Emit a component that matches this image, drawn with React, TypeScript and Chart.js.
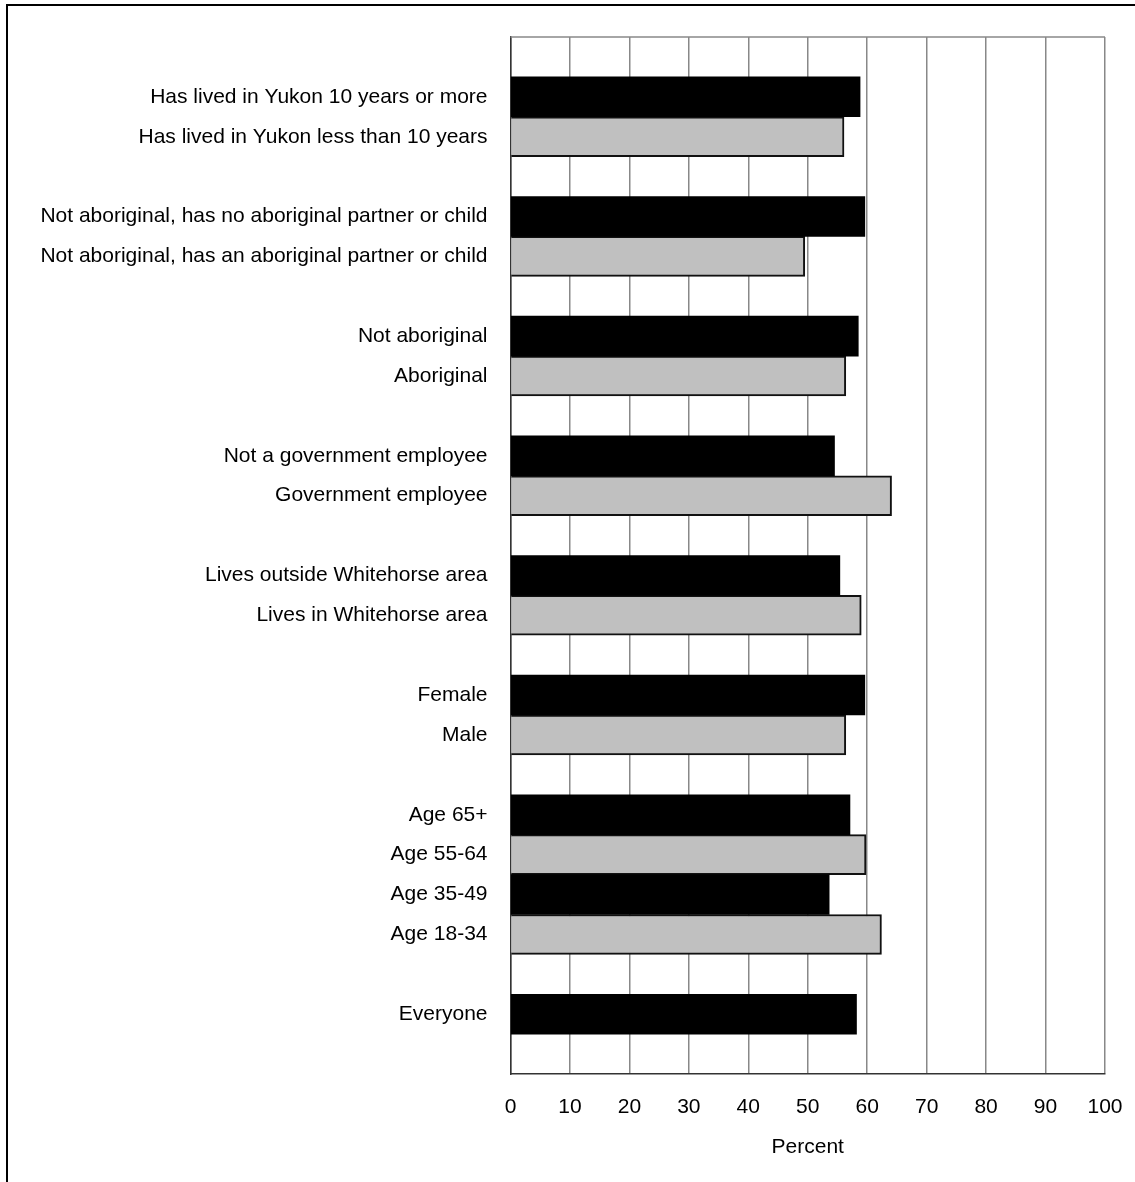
import React, { useEffect, useRef } from "react";
import { Chart, registerables } from "chart.js";

Chart.register(...registerables);

const categories: string[] = [
  "",
  "Has lived in Yukon 10 years or more",
  "Has lived in Yukon less than 10 years",
  "",
  "Not aboriginal, has no aboriginal partner or child",
  "Not aboriginal, has an aboriginal partner or child",
  "",
  "Not aboriginal",
  "Aboriginal",
  "",
  "Not a government employee",
  "Government employee",
  "",
  "Lives outside Whitehorse area",
  "Lives in Whitehorse area",
  "",
  "Female",
  "Male",
  "",
  "Age 65+",
  "Age 55-64",
  "Age 35-49",
  "Age 18-34",
  "",
  "Everyone",
  "",
];

const darkValues: (number | null)[] = [
  null, 58.8, null, null, 59.6, null, null, 58.5, null, null, 54.5, null, null,
  55.4, null, null, 59.6, null, null, 57.1, null, 53.6, null, null, 58.2, null,
];

const lightValues: (number | null)[] = [
  null, null, 56.1, null, null, 49.5, null, null, 56.4, null, null, 64.1, null,
  null, 59.0, null, null, 56.4, null, null, 59.8, null, 62.4, null, null, null,
];

const xTicks = { min: 0, max: 100, step: 10 };
const xTitle = "Percent";

const FONT = "'Liberation Sans', Arial, Helvetica, sans-serif";

const topEdgePlugin = {
  id: "topEdge",
  beforeDatasetsDraw(chart: any) {
    const { ctx, chartArea } = chart;
    ctx.save();
    ctx.strokeStyle = "#888";
    ctx.lineWidth = 1.5;
    ctx.beginPath();
    ctx.moveTo(chartArea.left, chartArea.top);
    ctx.lineTo(chartArea.right, chartArea.top);
    ctx.stroke();
    ctx.restore();
  },
};

export default function App() {
  const ref = useRef<HTMLCanvasElement | null>(null);

  useEffect(() => {
    if (!ref.current) return;
    const chart = new Chart(ref.current, {
      type: "bar",
      data: {
        labels: categories,
        datasets: [
          {
            label: "dark",
            data: darkValues,
            backgroundColor: "#000000",
            borderColor: "#000000",
            borderWidth: 0,
            grouped: false,
            barPercentage: 1,
            categoryPercentage: 1,
          } as any,
          {
            label: "light",
            data: lightValues,
            backgroundColor: "#c0c0c0",
            borderColor: "#111111",
            borderWidth: 2,
            grouped: false,
            barPercentage: 1,
            categoryPercentage: 1,
          } as any,
        ],
      },
      options: {
        indexAxis: "y",
        animation: false,
        responsive: false,
        devicePixelRatio: 1,
        layout: { padding: { top: 37, right: 30, bottom: 0, left: 0 } },
        plugins: {
          legend: { display: false },
          tooltip: { enabled: false },
          title: { display: false },
        },
        scales: {
          x: {
            type: "linear",
            position: "bottom",
            min: xTicks.min,
            max: xTicks.max,
            ticks: {
              stepSize: xTicks.step,
              color: "#000",
              padding: 21,
              font: { family: FONT, size: 21 },
            },
            grid: {
              display: true,
              drawTicks: false,
              color: "#888",
              lineWidth: 1.5,
            },
            border: { display: true, color: "#333", width: 1.5 },
            title: {
              display: true,
              text: xTitle,
              color: "#000",
              font: { family: FONT, size: 21 },
              padding: { top: 0, bottom: 22 },
            },
            afterFit(scale: any) {
              scale.height = 108;
              scale.paddingRight = 0;
              scale.paddingLeft = 0;
            },
          },
          y: {
            type: "category",
            position: "left",
            ticks: {
              color: "#000",
              padding: 23,
              autoSkip: false,
              font: { family: FONT, size: 21 },
            },
            grid: { display: false, drawTicks: false },
            border: { display: true, color: "#333", width: 1.5 },
            afterFit(scale: any) {
              scale.width = 510.5;
              scale.paddingTop = 0;
              scale.paddingBottom = 0;
            },
          },
        },
      },
      plugins: [topEdgePlugin],
    });
    return () => chart.destroy();
  }, []);

  return (
    <div>
      <div
        style={{
          position: "absolute",
          left: 6,
          top: 4,
          width: 1127,
          height: 1176,
          borderLeft: "2px solid #000",
          borderTop: "2px solid #000",
        }}
      />
      <canvas
        ref={ref}
        width={1135}
        height={1182}
        style={{ position: "absolute", left: 0, top: 0, width: 1135, height: 1182 }}
      />
    </div>
  );
}
